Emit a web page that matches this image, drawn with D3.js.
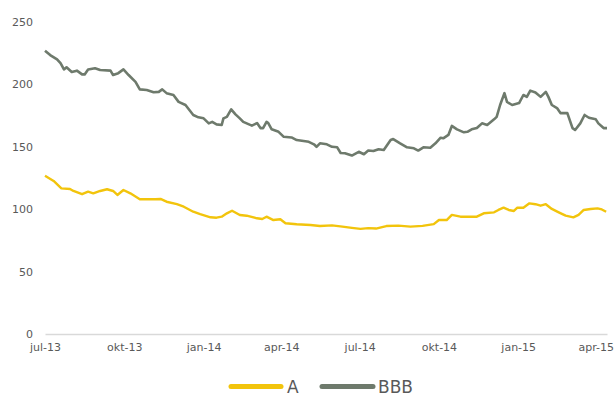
<!DOCTYPE html>
<html>
<head>
<meta charset="utf-8">
<script src="https://cdn.jsdelivr.net/npm/d3@7"></script>
<style>
  html, body { margin: 0; padding: 0; background: #ffffff; }
  svg { display: block; }
</style>
</head>
<body>
<svg id="chart" width="615" height="395"></svg>
<script>
// ---- data ----
const seriesNames = ["A", "BBB"];

const datesBBB = [
  "2013-07-01","2013-07-07","2013-07-15","2013-07-19","2013-07-23","2013-07-26","2013-08-01","2013-08-07",
  "2013-08-13","2013-08-16","2013-08-20","2013-08-28","2013-09-03","2013-09-15","2013-09-18","2013-09-24",
  "2013-09-30","2013-10-06","2013-10-14","2013-10-19","2013-10-27","2013-11-04","2013-11-10","2013-11-14",
  "2013-11-19","2013-11-27","2013-12-03","2013-12-11","2013-12-20","2013-12-26","2014-01-01","2014-01-07",
  "2014-01-11","2014-01-16","2014-01-22","2014-01-24","2014-01-28","2014-02-02","2014-02-07","2014-02-12",
  "2014-02-16","2014-02-26","2014-03-04","2014-03-08","2014-03-11","2014-03-15","2014-03-17","2014-03-21",
  "2014-03-29","2014-04-04","2014-04-13","2014-04-19","2014-04-27","2014-05-03","2014-05-09","2014-05-12",
  "2014-05-16","2014-05-24","2014-05-30","2014-06-05","2014-06-09","2014-06-14","2014-06-22","2014-06-30",
  "2014-07-06","2014-07-11","2014-07-17","2014-07-23","2014-07-29","2014-08-02","2014-08-06","2014-08-09",
  "2014-08-17","2014-08-25","2014-09-02","2014-09-07","2014-09-13","2014-09-21","2014-09-27","2014-10-03",
  "2014-10-06","2014-10-12","2014-10-16","2014-10-22","2014-10-30","2014-11-03","2014-11-08","2014-11-14",
  "2014-11-20","2014-11-26","2014-12-04","2014-12-07","2014-12-11","2014-12-16","2014-12-19","2014-12-25",
  "2015-01-02","2015-01-07","2015-01-11","2015-01-15","2015-01-21","2015-01-27","2015-02-02","2015-02-05",
  "2015-02-09","2015-02-15","2015-02-19","2015-02-27","2015-03-05","2015-03-08","2015-03-14","2015-03-19",
  "2015-03-24","2015-04-01","2015-04-04","2015-04-10","2015-04-14"
];
const valuesBBB = [
  227, 223.5, 220, 217, 212, 213.7, 210, 211,
  208, 208, 212, 213, 211.5, 211, 207.5, 209,
  212, 207.5, 202, 196, 195.5, 193.7, 194, 196,
  193, 191.5, 186, 183.5, 175.5, 173.6, 172.8, 168.8,
  170, 168, 167.5, 172.8, 174, 180, 176, 172.8,
  170, 167, 169, 165, 165, 170, 169, 164,
  162, 158, 157.5, 155.4, 154.6, 154, 152, 150,
  152.8, 152, 150, 149.6, 145, 144.8, 143, 146,
  144, 147, 146.6, 148, 147.4, 151.4, 155.4, 156.2,
  152.8, 149.6, 148.8, 147, 149.6, 149.3, 152.8, 157.3,
  156.8, 159.5, 166.7, 164, 161.6, 162, 164, 165,
  168.8, 167.5, 172, 174, 183.5, 193, 186, 183.5,
  185, 191.5, 190, 195, 193.5, 190, 194, 190,
  183.5, 181, 177, 177, 165, 163.5, 168.8, 175.5,
  173.3, 172, 168.8, 165, 165
];

const datesA = [
  "2013-07-01","2013-07-11","2013-07-20","2013-07-30","2013-08-03","2013-08-13","2013-08-20","2013-08-26",
  "2013-09-03","2013-09-11","2013-09-18","2013-09-23","2013-09-30","2013-10-08","2013-10-19","2013-10-27",
  "2013-11-06","2013-11-12","2013-11-19","2013-12-01","2013-12-09","2013-12-20","2013-12-28","2014-01-09",
  "2014-01-16","2014-01-22","2014-01-28","2014-02-03","2014-02-12","2014-02-20","2014-03-04","2014-03-10",
  "2014-03-15","2014-03-23","2014-03-31","2014-04-06","2014-04-19","2014-05-05","2014-05-16","2014-05-30",
  "2014-06-11","2014-06-22","2014-07-02","2014-07-11","2014-07-20","2014-08-01","2014-08-15","2014-08-29",
  "2014-09-12","2014-09-25","2014-10-01","2014-10-10","2014-10-16","2014-10-26","2014-11-14","2014-11-22",
  "2014-12-04","2014-12-09","2014-12-15","2014-12-21","2014-12-27","2014-12-31","2015-01-07","2015-01-14",
  "2015-01-21","2015-01-27","2015-02-02","2015-02-09","2015-02-17","2015-02-25","2015-03-06","2015-03-12",
  "2015-03-18","2015-03-26","2015-04-03","2015-04-08","2015-04-13"
];
const valuesA = [
  126.8, 122.6, 116.7, 116.2, 114.6, 112, 114, 112.7,
  114.6, 116, 114.6, 111.4, 115.4, 112.7, 108, 108,
  108, 108.2, 106, 104, 102, 98, 96, 93.5,
  93.2, 94, 96.7, 98.8, 95.4, 94.8, 92.7, 92.1,
  94, 91.3, 91.9, 88.7, 87.9, 87.3, 86.5, 87,
  86, 85, 84.2, 84.8, 84.5, 86.5, 86.8, 86,
  86.6, 88, 91.3, 91.3, 95.4, 94, 94, 96.7,
  97.5, 99.4, 101.2, 99.4, 98.6, 101.2, 101.2, 104.7,
  104, 102.8, 104, 100.2, 97.5, 94.8, 93.5, 95.4,
  99.4, 100.2, 100.7, 99.8, 98
];

const yTicks = [0, 50, 100, 150, 200, 250];
const xTickDates = ["2013-07-01","2013-10-01","2014-01-01","2014-04-01","2014-07-01","2014-10-01","2015-01-01","2015-04-01"];
const xTickLabels = ["jul-13","okt-13","jan-14","apr-14","jul-14","okt-14","jan-15","apr-15"];
const xDomain = ["2013-07-01", "2015-04-14"];

// ---- drawing ----
const parse = d3.utcParse("%Y-%m-%d");
const colors = { A: "#f2c40c", BBB: "#6e7a6c" };

const svg = d3.select("#chart");
const x = d3.scaleUtc().domain(xDomain.map(parse)).range([45, 607]);
const y = d3.scaleLinear().domain([0, 250]).range([334, 22]);

const font = "'DejaVu Sans', Verdana, sans-serif";

// y axis (labels only)
const yAxis = d3.axisLeft(y).tickValues(yTicks).tickSize(0).tickPadding(0);
const gy = svg.append("g").attr("transform", "translate(33,0)").call(yAxis);
gy.select(".domain").remove();
gy.selectAll("text").attr("font-family", font).attr("font-size", 11).attr("fill", "#595959");

// x axis
const xAxis = d3.axisBottom(x)
  .tickValues(xTickDates.map(parse))
  .tickFormat((d, i) => xTickLabels[i])
  .tickSize(0).tickPadding(9);
const gx = svg.append("g").attr("transform", "translate(0,334)").call(xAxis);
gx.select(".domain").attr("stroke", "#d9d9d9").attr("stroke-width", 1.5);
gx.selectAll("text").attr("font-family", font).attr("font-size", 11).attr("fill", "#595959");

// lines
const line = d3.line().x(d => x(d.date)).y(d => y(d.value)).curve(d3.curveLinear);
const dataA = datesA.map((d, i) => ({ date: parse(d), value: valuesA[i] }));
const dataBBB = datesBBB.map((d, i) => ({ date: parse(d), value: valuesBBB[i] }));

svg.append("path").datum(dataA)
  .attr("fill", "none").attr("stroke", colors.A).attr("stroke-width", 2.4)
  .attr("stroke-linejoin", "round").attr("d", line);
svg.append("path").datum(dataBBB)
  .attr("fill", "none").attr("stroke", colors.BBB).attr("stroke-width", 2.6)
  .attr("stroke-linejoin", "round").attr("d", line);

// legend
const legendItems = [
  { name: seriesNames[0], x1: 231, x2: 281, tx: 287 },
  { name: seriesNames[1], x1: 322, x2: 373, tx: 378 }
];
const lg = svg.append("g");
legendItems.forEach(it => {
  lg.append("line").attr("x1", it.x1).attr("x2", it.x2).attr("y1", 386.5).attr("y2", 386.5)
    .attr("stroke", colors[it.name]).attr("stroke-width", 5).attr("stroke-linecap", "round");
  lg.append("text").attr("x", it.tx).attr("y", 392.5).text(it.name)
    .attr("font-family", font).attr("font-size", 17).attr("fill", "#595959");
});
</script>
</body>
</html>
